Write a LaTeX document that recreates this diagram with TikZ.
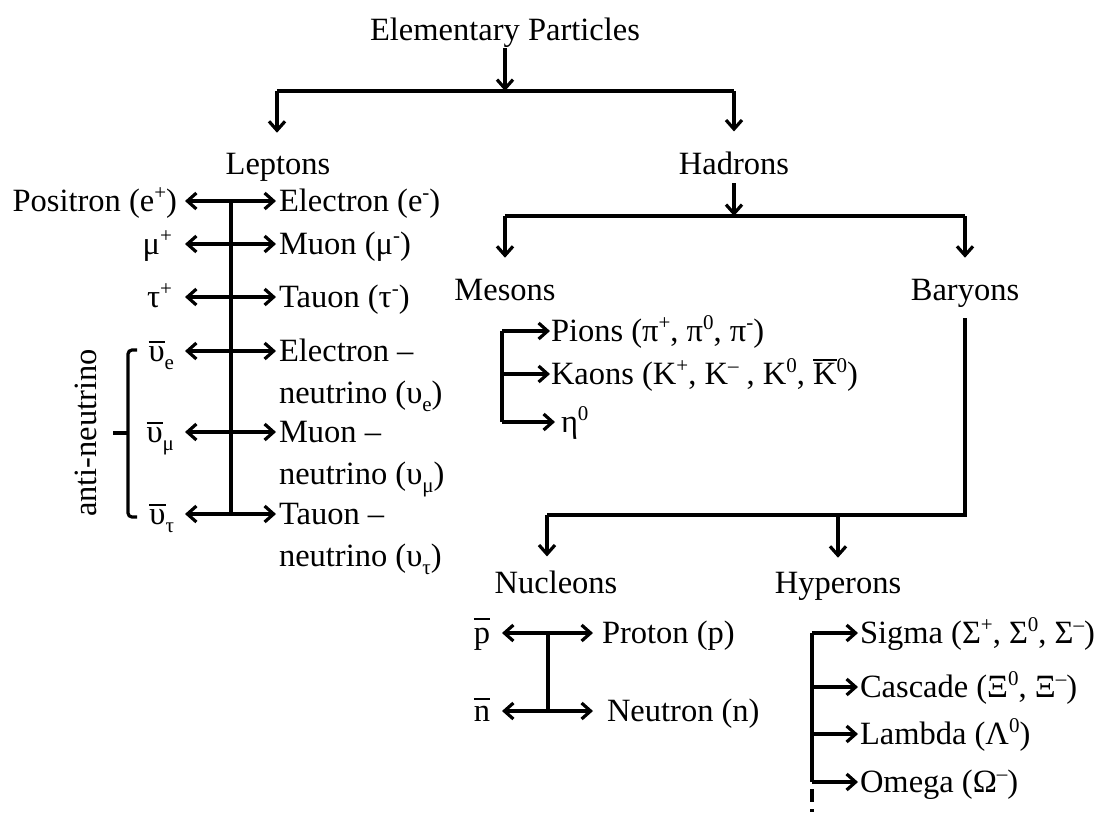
\documentclass[tikz,border=0pt]{standalone}
\usepackage{fontspec}
\setmainfont{Liberation Serif}
\usetikzlibrary{arrows.meta}
\newcommand\ovl[2][2pt]{\leavevmode\vbox{\hrule height 1.8pt\kern#1\hbox{#2}}}
\newcommand\twol[2]{\begin{tabular}[t]{@{}l@{}}#1\\#2\end{tabular}}
\newcommand\sbs[1]{\raisebox{-0.26em}{\fontsize{21}{21}\selectfont #1}}
\newcommand\sps[1]{\raisebox{0.36em}{\fontsize{21}{21}\selectfont #1}}
\begin{document}
\begin{tikzpicture}[x=1pt,y=-1pt,
  font=\fontsize{32.5}{42}\selectfont,
  every node/.style={inner sep=0pt, outer sep=0pt},
  ln/.style={line width=3.2pt},
  arr/.style={ln, -{Straight Barb[length=9pt,width=16pt]}},
  darr/.style={ln, {Straight Barb[length=9pt,width=16pt]}-{Straight Barb[length=9pt,width=16pt]}},
  lt/.style={anchor=base east}, rt/.style={anchor=base west}, ct/.style={anchor=base}]
\useasboundingbox (0,0) rectangle (1096,812);

% ---------- top level ----------
\node[ct] (ep) at (505,40) {Elementary Particles};
\coordinate (h1) at (505,91);
\coordinate (hL) at (277,91);
\coordinate (hR) at (734,91);
\draw[arr] ([yshift=-8pt]ep.base) -- (h1);
\draw[ln] (hL) -- (hR);
\node[ct] (lep) at (278,174) {Leptons};
\node[ct] (had) at (734,174) {Hadrons};
\draw[arr, shorten >=20pt] (hL) -- (hL |- lep.north);
\draw[arr, shorten >=20pt] (hR) -- (hR |- had.north);

% ---------- leptons ----------
\coordinate (lv1) at (231,201);
\coordinate (lv2) at (231,244);
\coordinate (lv3) at (231,297);
\coordinate (lv4) at (231,351);
\coordinate (lv5) at (231,432);
\coordinate (lv6) at (231,514);
\draw[ln] (lv1) -- (lv6);

\node[rt] (elec) at (279,211) {Electron (e\sps{-})};
\node[rt] (muon) at (279,254) {Muon (μ\sps{-})};
\node[rt] (tauon) at (279,307) {Tauon (τ\sps{-})};
\node[rt] (enu) at (279,361) {\twol{Electron –}{neutrino (υ\sbs{e})}};
\node[rt] (mnu) at (279,442) {\twol{Muon –}{neutrino (υ\sbs{μ})}};
\node[rt] (tnu) at (279,524) {\twol{Tauon –}{neutrino (υ\sbs{τ})}};

\node[lt] (posi) at (177,211) {Positron (e\sps{+})};
\node[lt] (mup) at (172,254) {μ\sps{+}};
\node[lt] (taup) at (172,307) {τ\sps{+}};
\node[lt] (aenu) at (174,361) {\ovl[3pt]{υ}\sbs{e}};
\node[lt] (amnu) at (174,442) {\ovl[3pt]{υ}\sbs{μ}};
\node[lt] (atnu) at (174,524) {\ovl[3pt]{υ}\sbs{τ}};

\draw[darr, shorten <=8pt, shorten >=3pt] (posi.east |- lv1) -- (elec.west |- lv1);
\draw[darr, shorten <=13pt, shorten >=3pt] (mup.east |- lv2) -- (muon.west |- lv2);
\draw[darr, shorten <=13pt, shorten >=3pt] (taup.east |- lv3) -- (tauon.west |- lv3);
\draw[darr, shorten <=11pt, shorten >=3pt] (aenu.east |- lv4) -- (enu.west |- lv4);
\draw[darr, shorten <=11pt, shorten >=3pt] (amnu.east |- lv5) -- (mnu.west |- lv5);
\draw[darr, shorten <=11pt, shorten >=3pt] (atnu.east |- lv6) -- (tnu.west |- lv6);

% brace + label
\coordinate (bt) at (137,350);
\coordinate (bb) at (137,517);
\coordinate (bm) at (128,433);
\draw[ln, rounded corners=4pt] (bt) -- (128,350) -- (128,517) -- (bb);
\draw[ln] (bm) -- (113,433);
\node[rotate=90] (anti) at (86,433) {anti-neutrino};

% ---------- hadrons ----------
\coordinate (g1) at (734,216);
\coordinate (gL) at (505,216);
\coordinate (gR) at (965,216);
\draw[arr] ([yshift=-9pt]had.base) -- (g1);
\draw[ln] (gL) -- (gR);
\node[ct] (mes) at (505,300) {Mesons};
\node[ct] (bar) at (965,300) {Baryons};
\draw[arr, shorten >=21pt] (gL) -- (gL |- mes.north);
\draw[arr, shorten >=21pt] (gR) -- (gR |- bar.north);

% mesons
\coordinate (m1) at (502,331);
\coordinate (m2) at (502,374);
\coordinate (m3) at (502,422);
\draw[ln] (m1) -- (m3);
\node[rt] (pion) at (551,341) {Pions (π\sps{+}, π\sps{0}, π\sps{-})};
\node[rt] (kaon) at (551,384) {Kaons (K\sps{+}, K\sps{–} , K\sps{0}, \ovl[2pt]{K}\sps{0})};
\node[rt] (eta) at (561,432) {η\sps{0}};
\draw[arr, shorten >=1pt] (m1) -- (m1 -| pion.west);
\draw[arr, shorten >=1pt] (m2) -- (m2 -| kaon.west);
\draw[arr, shorten >=6pt] (m3) -- (m3 -| eta.west);

% baryons
\coordinate (b0) at (965,318);
\coordinate (bR) at (965,515);
\coordinate (bL) at (547,515);
\coordinate (bM) at (838,515);
\draw[ln] (b0) -- (bR) -- (bL);
\node[ct] (nuc) at (556,593) {Nucleons};
\node[ct] (hyp) at (838,593) {Hyperons};
\draw[arr, shorten >=14pt] (bL) -- (bL |- nuc.north);
\draw[arr, shorten >=14pt] (bM) -- (bM |- hyp.north);

% nucleons
\coordinate (n1) at (548,633);
\coordinate (n2) at (548,711);
\draw[ln] (n1) -- (n2);
\node[lt] (pbar) at (490,643) {\ovl[8pt]{p}};
\node[lt] (nbar) at (490,721) {\ovl[6pt]{n}};
\node[rt] (prot) at (602,643) {Proton (p)};
\node[rt] (neut) at (607,721) {Neutron (n)};
\draw[darr, shorten <=12pt, shorten >=9pt] (pbar.east |- n1) -- (prot.west |- n1);
\draw[darr, shorten <=12pt, shorten >=14pt] (nbar.east |- n2) -- (neut.west |- n2);

% hyperons
\coordinate (y1) at (812,633);
\coordinate (y2) at (812,687);
\coordinate (y3) at (812,734);
\coordinate (y4) at (812,782);
\coordinate (y5) at (812,812);
\draw[ln] (y1) -- (y4);
\draw[ln, dash pattern=on 13pt off 7pt, dash phase=13pt] (y4) -- (y5);
\node[rt] (sig) at (860,643) {Sigma (Σ\sps{+}, Σ\sps{0}, Σ\sps{–})};
\node[rt] (cas) at (860,697) {Cascade (Ξ\sps{0}, Ξ\sps{–})};
\node[rt] (lam) at (860,744) {Lambda (Λ\sps{0})};
\node[rt] (ome) at (860,792) {Omega (Ω\sps{–})};
\draw[arr, shorten >=2pt] (y1) -- (y1 -| sig.west);
\draw[arr, shorten >=2pt] (y2) -- (y2 -| cas.west);
\draw[arr, shorten >=2pt] (y3) -- (y3 -| lam.west);
\draw[arr, shorten >=2pt] (y4) -- (y4 -| ome.west);
\end{tikzpicture}
\end{document}
